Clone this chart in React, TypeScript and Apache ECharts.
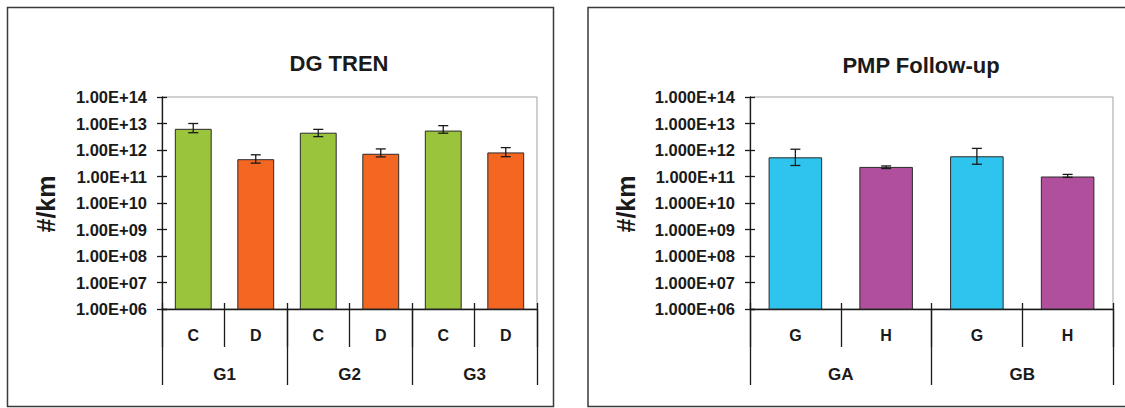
import React, { useEffect, useRef } from "react";
import * as echarts from "echarts";

// DG TREN panel
const dgCategories = ["C", "D", "C", "D", "C", "D"];
const dgGroups = ["G1", "G2", "G3"];
const dgValues = [6.3e12, 4.5e11, 4.5e12, 7.2e11, 5.4e12, 8.1e11];
const dgErrLow = [4.5e12, 3.2e11, 3.2e12, 5.5e11, 4.3e12, 5.6e11];
const dgErrHigh = [1.0e13, 6.6e11, 6.0e12, 1.1e12, 8.3e12, 1.23e12];

// PMP Follow-up panel
const pmpCategories = ["G", "H", "G", "H"];
const pmpGroups = ["GA", "GB"];
const pmpValues = [5.3e11, 2.3e11, 5.8e11, 1.0e11];
const pmpErrLow = [2.6e11, 2.0e11, 2.9e11, 0.93e11];
const pmpErrHigh = [1.07e12, 2.5e11, 1.15e12, 1.2e11];

const categoryColors: Record<string, string> = {
  C: "#99C43C",
  D: "#F36722",
  G: "#2EC4EE",
  H: "#B0509C",
};

const FONT = "'Liberation Sans', Arial, sans-serif";
const INK = "#1a1a1a";

const sciLabel = (digits: number) => (v: number) => {
  const exp = Math.round(Math.log10(v));
  return `${(1).toFixed(digits)}E+${String(exp).padStart(2, "0")}`;
};

const errorRenderer = (params: any, api: any) => {
  const x = api.value(0);
  const lo = api.coord([x, api.value(1)]);
  const hi = api.coord([x, api.value(2)]);
  const half = 5;
  const style = { stroke: INK, lineWidth: 1.3 };
  return {
    type: "group",
    children: [
      { type: "line", shape: { x1: lo[0], y1: lo[1], x2: hi[0], y2: hi[1] }, style },
      { type: "line", shape: { x1: lo[0] - half, y1: lo[1], x2: lo[0] + half, y2: lo[1] }, style },
      { type: "line", shape: { x1: hi[0] - half, y1: hi[1], x2: hi[0] + half, y2: hi[1] }, style },
    ],
  };
};

function panelAxes(gridIndex: number, cats: string[], groups: string[], digits: number) {
  const xAxes = [
    {
      type: "category",
      gridIndex,
      data: cats,
      boundaryGap: true,
      axisLine: { show: true, lineStyle: { color: INK, width: 1.3 } },
      axisTick: { show: true, interval: 0, length: 38, lineStyle: { color: INK, width: 1.3 } },
      axisLabel: {
        interval: 0,
        margin: 18,
        color: INK,
        fontFamily: FONT,
        fontWeight: "bold",
        fontSize: 16,
      },
    },
    {
      type: "category",
      gridIndex,
      data: groups,
      position: "bottom",
      boundaryGap: true,
      axisLine: { show: false },
      axisTick: { show: true, interval: 0, length: 76, lineStyle: { color: INK, width: 1.3 } },
      axisLabel: {
        interval: 0,
        margin: 57,
        color: INK,
        fontFamily: FONT,
        fontWeight: "bold",
        fontSize: 17,
      },
    },
    {
      type: "category",
      gridIndex,
      data: cats,
      position: "bottom",
      boundaryGap: true,
      axisLine: { show: false },
      axisTick: { show: true, inside: true, interval: 0, length: 6, lineStyle: { color: INK, width: 1.3 } },
      axisLabel: { show: false },
    },
  ];
  const yBase = {
    type: "log",
    logBase: 10,
    gridIndex,
    min: 1e6,
    max: 1e14,
    splitNumber: 8,
    splitLine: { show: false },
  };
  const yAxes = [
    {
      ...yBase,
      axisLine: { show: true, lineStyle: { color: INK, width: 1.3 } },
      axisTick: { show: true, length: 5, lineStyle: { color: INK, width: 1.3 } },
      axisLabel: {
        margin: 15,
        color: INK,
        fontFamily: FONT,
        fontWeight: "bold",
        fontSize: 16.5,
        formatter: sciLabel(digits),
      },
    },
    {
      ...yBase,
      position: "left",
      axisLine: { show: false },
      axisTick: { show: true, inside: true, length: 5, lineStyle: { color: INK, width: 1.3 } },
      axisLabel: { show: false },
    },
  ];
  return { xAxes, yAxes };
}

function panelSeries(
  xBase: number,
  yBase: number,
  cats: string[],
  values: number[],
  lows: number[],
  highs: number[]
) {
  return [
    {
      type: "bar",
      xAxisIndex: xBase,
      yAxisIndex: yBase,
      barCategoryGap: "41%",
      clip: true,
      data: values.map((v, i) => ({
        value: v,
        itemStyle: { color: categoryColors[cats[i]], borderColor: "#2a2a2a", borderWidth: 1 },
      })),
      z: 2,
    },
    {
      type: "custom",
      xAxisIndex: xBase,
      yAxisIndex: yBase,
      renderItem: errorRenderer,
      encode: { x: 0, y: [1, 2] },
      data: values.map((_, i) => [i, lows[i], highs[i]]),
      z: 5,
    },
  ];
}

export default function App() {
  const ref = useRef<HTMLDivElement>(null);

  useEffect(() => {
    if (!ref.current) return;
    const chart = echarts.init(ref.current, undefined, { renderer: "svg" });

    const left = panelAxes(0, dgCategories, dgGroups, 2);
    const right = panelAxes(1, pmpCategories, pmpGroups, 3);

    const textStyle = (size: number) => ({
      fontFamily: FONT,
      fontWeight: "bold",
      fontSize: size,
      fill: INK,
      textAlign: "center",
      textVerticalAlign: "middle",
    });

    chart.setOption({
      animation: false,
      backgroundColor: "#ffffff",
      grid: [
        { left: 162, top: 97, width: 375, height: 212, show: true, borderColor: "#a0a0a0", borderWidth: 1, backgroundColor: "transparent" },
        { left: 750, top: 97, width: 363, height: 212, show: true, borderColor: "#a0a0a0", borderWidth: 1, backgroundColor: "transparent" },
      ],
      xAxis: [...left.xAxes, ...right.xAxes],
      yAxis: [...left.yAxes, ...right.yAxes],
      series: [
        ...panelSeries(0, 0, dgCategories, dgValues, dgErrLow, dgErrHigh),
        ...panelSeries(3, 2, pmpCategories, pmpValues, pmpErrLow, pmpErrHigh),
      ],
      graphic: [
        {
          type: "rect",
          shape: { x: 7.5, y: 7.5, width: 546, height: 399 },
          style: { fill: "none", stroke: "#3a3a3a", lineWidth: 1.5 },
          silent: true,
          z: -1,
        },
        {
          type: "rect",
          shape: { x: 588, y: 7.5, width: 560, height: 399 },
          style: { fill: "none", stroke: "#3a3a3a", lineWidth: 1.5 },
          silent: true,
          z: -1,
        },
        { type: "text", x: 339, y: 63, style: { text: "DG TREN", ...textStyle(22) } },
        { type: "text", x: 921, y: 65, style: { text: "PMP Follow-up", ...textStyle(22) } },
        { type: "text", x: 46, y: 204, rotation: Math.PI / 2, style: { text: "#/km", ...textStyle(25) } },
        { type: "text", x: 626, y: 204, rotation: Math.PI / 2, style: { text: "#/km", ...textStyle(25) } },
      ],
    });

    return () => chart.dispose();
  }, []);

  return (
    <div
      ref={ref}
      style={{ position: "absolute", left: 0, top: 0, width: 1125, height: 408 }}
    />
  );
}
